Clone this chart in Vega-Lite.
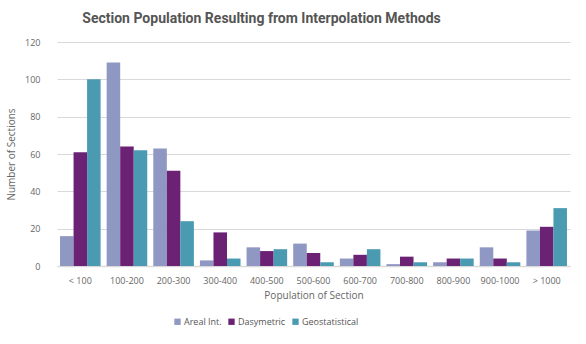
{
  "$schema": "https://vega.github.io/schema/vega-lite/v6.json",
  "width": 513,
  "height": 224,
  "autosize": {"type": "none"},
  "padding": {"left": 57, "top": 42, "right": 16, "bottom": 78},
  "background": "white",
  "title": {
    "text": "Section Population Resulting from Interpolation Methods",
    "font": "Roboto",
    "fontSize": 14,
    "fontWeight": "bold",
    "color": "#555555",
    "anchor": "middle",
    "dx": -52,
    "offset": 12
  },
  "data": {
    "values": [
      {"range": "< 100", "method": "Areal Int.", "count": 16},
      {"range": "< 100", "method": "Dasymetric", "count": 61},
      {"range": "< 100", "method": "Geostatistical", "count": 100},
      {"range": "100-200", "method": "Areal Int.", "count": 109},
      {"range": "100-200", "method": "Dasymetric", "count": 64},
      {"range": "100-200", "method": "Geostatistical", "count": 62},
      {"range": "200-300", "method": "Areal Int.", "count": 63},
      {"range": "200-300", "method": "Dasymetric", "count": 51},
      {"range": "200-300", "method": "Geostatistical", "count": 24},
      {"range": "300-400", "method": "Areal Int.", "count": 3},
      {"range": "300-400", "method": "Dasymetric", "count": 18},
      {"range": "300-400", "method": "Geostatistical", "count": 4},
      {"range": "400-500", "method": "Areal Int.", "count": 10},
      {"range": "400-500", "method": "Dasymetric", "count": 8},
      {"range": "400-500", "method": "Geostatistical", "count": 9},
      {"range": "500-600", "method": "Areal Int.", "count": 12},
      {"range": "500-600", "method": "Dasymetric", "count": 7},
      {"range": "500-600", "method": "Geostatistical", "count": 2},
      {"range": "600-700", "method": "Areal Int.", "count": 4},
      {"range": "600-700", "method": "Dasymetric", "count": 6},
      {"range": "600-700", "method": "Geostatistical", "count": 9},
      {"range": "700-800", "method": "Areal Int.", "count": 1},
      {"range": "700-800", "method": "Dasymetric", "count": 5},
      {"range": "700-800", "method": "Geostatistical", "count": 2},
      {"range": "800-900", "method": "Areal Int.", "count": 2},
      {"range": "800-900", "method": "Dasymetric", "count": 4},
      {"range": "800-900", "method": "Geostatistical", "count": 4},
      {"range": "900-1000", "method": "Areal Int.", "count": 10},
      {"range": "900-1000", "method": "Dasymetric", "count": 4},
      {"range": "900-1000", "method": "Geostatistical", "count": 2},
      {"range": "> 1000", "method": "Areal Int.", "count": 19},
      {"range": "> 1000", "method": "Dasymetric", "count": 21},
      {"range": "> 1000", "method": "Geostatistical", "count": 31}
    ]
  },
  "mark": {"type": "bar"},
  "encoding": {
    "x": {
      "field": "range",
      "type": "nominal",
      "sort": null,
      "title": "Population of Section",
      "scale": {"paddingInner": 0.13, "paddingOuter": 0.065},
      "axis": {
        "labelAngle": 0,
        "domain": true,
        "domainColor": "#d9d9d9",
        "domainWidth": 1.5,
        "ticks": false,
        "labelPadding": 10,
        "titlePadding": 5
      }
    },
    "xOffset": {"field": "method", "type": "nominal", "scale": {"paddingInner": 0}},
    "y": {
      "field": "count",
      "type": "quantitative",
      "title": "Number of Sections",
      "scale": {"domain": [0, 120]},
      "axis": {
        "values": [0, 20, 40, 60, 80, 100, 120],
        "domain": false,
        "ticks": false,
        "labelPadding": 17,
        "titlePadding": 8
      }
    },
    "color": {
      "field": "method",
      "type": "nominal",
      "scale": {
        "domain": ["Areal Int.", "Dasymetric", "Geostatistical"],
        "range": ["#8f97c3", "#6b2275", "#4a9ab1"]
      },
      "legend": {
        "title": null,
        "orient": "none",
        "direction": "horizontal",
        "legendX": 116,
        "legendY": 275,
        "symbolType": "square",
        "symbolSize": 40,
        "columnPadding": 5,
        "labelOffset": 2
      }
    }
  },
  "config": {
    "font": "Open Sans",
    "view": {"stroke": null},
    "axis": {
      "labelFont": "Open Sans",
      "labelFontSize": 9,
      "labelColor": "#666666",
      "titleFont": "Open Sans",
      "titleFontSize": 10,
      "titleFontWeight": "normal",
      "titleColor": "#666666",
      "gridColor": "#d9d9d9",
      "gridWidth": 1.2
    },
    "legend": {
      "labelFont": "Open Sans",
      "labelFontSize": 9,
      "labelColor": "#555555"
    }
  }
}
